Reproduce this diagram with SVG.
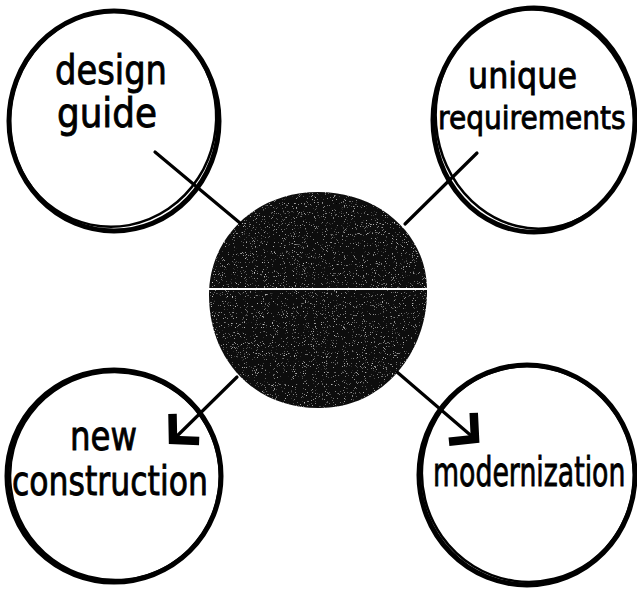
<svg xmlns="http://www.w3.org/2000/svg" width="637" height="589" viewBox="0 0 637 589">
  <style>
    .ring { fill: #ffffff; stroke: #000000; stroke-width: 5; }
    .ring2 { fill: none; stroke: #000000; stroke-width: 2.5; }
    .label { font-family: "DejaVu Sans", "Liberation Sans", sans-serif; font-size: 40px; fill: #000000; stroke: #000000; stroke-width: 0.9; }
    .conn { stroke: #000000; stroke-width: 3.2; fill: none; stroke-linecap: round; }
  </style>
  <defs>
    <marker id="chev" markerUnits="userSpaceOnUse" markerWidth="50" markerHeight="50" refX="0" refY="0" viewBox="-25 -25 50 50" orient="auto" overflow="visible">
      <path d="M -18 -19 L 0 0 L -18 19" fill="none" stroke="#000000" stroke-width="8.5" stroke-linejoin="miter" stroke-linecap="butt"/>
    </marker>
    <filter id="grain" x="0" y="0" width="1" height="1">
      <feTurbulence type="fractalNoise" baseFrequency="0.9" numOctaves="2" seed="7" result="noise"/>
      <feColorMatrix in="noise" type="matrix" values="0 0 0 0 0.75  0 0 0 0 0.75  0 0 0 0 0.75  4 0 0 0 -2.6" result="specks"/>
      <feComposite in="specks" in2="SourceAlpha" operator="in" result="clipped"/>
      <feMerge><feMergeNode in="SourceGraphic"/><feMergeNode in="clipped"/></feMerge>
    </filter>
  </defs>

  <rect x="0" y="0" width="637" height="589" fill="#ffffff"/>

  <g id="node-design-guide">
    <ellipse class="ring" cx="114" cy="121" rx="105" ry="110"/>
    <ellipse class="ring2" cx="113" cy="119" rx="103" ry="108" transform="rotate(12 113 119)"/>
    <text class="label" transform="translate(55 84) scale(0.844 1)">design</text>
    <text class="label" transform="translate(57 127) scale(0.894 1)">guide</text>
  </g>

  <g id="node-unique-requirements">
    <ellipse class="ring" cx="534" cy="120" rx="101" ry="112"/>
    <ellipse class="ring2" cx="535" cy="119" rx="99" ry="110" transform="rotate(-10 535 119)"/>
    <text class="label" style="font-size:36px" transform="translate(468 88) scale(0.883 1)">unique</text>
    <text class="label" style="font-size:32px" transform="translate(438 129) scale(0.877 1)">requirements</text>
  </g>

  <g id="node-new-construction">
    <ellipse class="ring" cx="114" cy="476" rx="107" ry="106"/>
    <ellipse class="ring2" cx="115" cy="476" rx="105" ry="104" transform="rotate(15 115 476)"/>
    <text class="label" transform="translate(70 450) scale(0.81 1)">new</text>
    <text class="label" transform="translate(12 495) scale(0.788 1)">construction</text>
  </g>

  <g id="node-modernization">
    <ellipse class="ring" cx="527" cy="475" rx="108" ry="110"/>
    <ellipse class="ring2" cx="528" cy="474" rx="106" ry="108" transform="rotate(-14 528 474)"/>
    <text class="label" transform="translate(433 486) scale(0.669 1)">modernization</text>
  </g>

  <g id="node-center">
    <path d="M 318 192 C 380 192 427 235 427 290 C 428 350 385 408 320 408 C 255 409 209 360 209 295 C 209 238 255 192 318 192 Z" fill="#0c0c0c" filter="url(#grain)"/>
    <line x1="209" y1="289" x2="427" y2="289" stroke="#ffffff" stroke-width="2"/>
  </g>

  <g id="connectors">
    <line class="conn" x1="155" y1="152" x2="240" y2="223"/>
    <line class="conn" x1="477" y1="153" x2="405" y2="224"/>
    <line class="conn" x1="237" y1="377" x2="173" y2="440" marker-end="url(#chev)"/>
    <line class="conn" x1="397" y1="372" x2="475" y2="439" marker-end="url(#chev)"/>
  </g>
</svg>
